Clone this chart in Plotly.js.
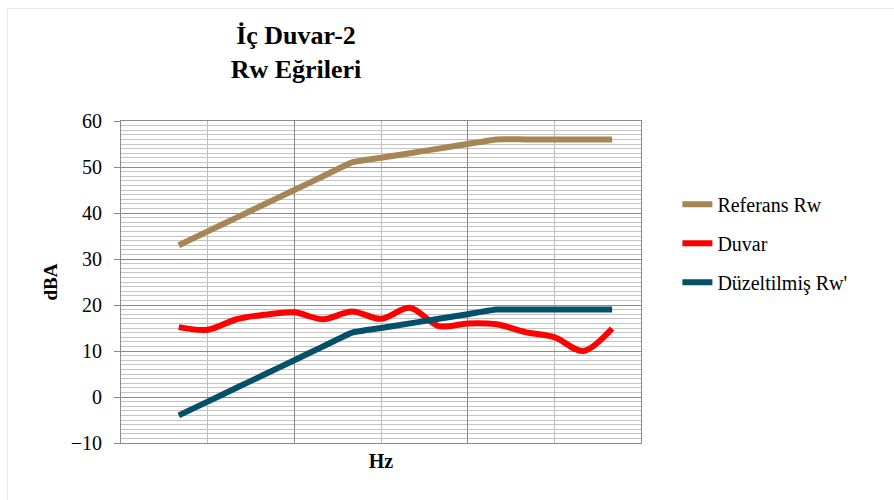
<!DOCTYPE html>
<html>
<head>
<meta charset="utf-8">
<script src="https://cdn.plot.ly/plotly-3.0.1.min.js"></script>
<style>
  html, body { margin: 0; padding: 0; background: #fff; }
  #wrap { position: relative; width: 894px; height: 500px; overflow: hidden; }
  #chart { width: 894px; height: 500px; }
  #frame { position: absolute; left: 7px; top: 8px; width: 1000px; height: 600px;
           border-left: 1px solid #e8e8e8; border-top: 1px solid #e8e8e8; pointer-events: none; }
</style>
</head>
<body>
<div id="wrap">
  <div id="chart"></div>
  <div id="frame"></div>
</div>
<script>
// 1/3-octave band centre frequencies (categories, not labelled on the chart)
const freqs = [100, 125, 160, 200, 250, 315, 400, 500, 630, 800, 1000, 1250, 1600, 2000, 2500, 3150];
// Series values (dB)
const referansRw = [33, 36, 39, 42, 45, 48, 51, 52, 53, 54, 55, 56, 56, 56, 56, 56];
const duvar = [15.2, 14.6, 16.9, 17.9, 18.4, 16.9, 18.6, 17.0, 19.4, 15.4, 16.0, 15.8, 14.1, 13.0, 10.0, 14.9];
const duzeltilmisRw = [-4, -1, 2, 5, 8, 11, 14, 15, 16, 17, 18, 19, 19, 19, 19, 19];
const seriesNames = ['Referans Rw', 'Duvar', 'Düzeltilmiş Rw\''];
const yTicks = [-10, 0, 10, 20, 30, 40, 50, 60];

const xPos = freqs.map((f, i) => i);
const serif = 'Times New Roman';

function mk(name, y, color, group, smooth) {
  return {
    type: 'scatter', mode: 'lines', name: name, x: xPos, y: y,
    line: { color: color, width: 6, shape: 'spline', smoothing: smooth },
    legendgroup: group
  };
}

const data = [
  mk(seriesNames[0], referansRw, '#A68654', 'a', 0.4),
  mk(seriesNames[1], duvar, '#FF0000', 'b', 0.9),
  mk(seriesNames[2], duzeltilmisRw, '#045068', 'c', 0.4)
];

const layout = {
  width: 894, height: 500,
  margin: { l: 121, r: 253, t: 121, b: 57, pad: 0 },
  font: { family: serif, color: '#000', size: 20 },
  title: {
    text: 'İç Duvar-2<br>Rw Eğrileri',
    font: { family: serif, size: 26, weight: 'bold' },
    xref: 'container', x: 296 / 894, xanchor: 'center',
    yref: 'container', y: 1 - 44 / 500, yanchor: 'top'
  },
  xaxis: {
    range: [-2, 16], tick0: -2, dtick: 6,
    showticklabels: false, ticks: '',
    showline: true, linecolor: '#8a8a8a', linewidth: 1, mirror: true,
    showgrid: true, gridcolor: '#8a8a8a', gridwidth: 1,
    minor: { tick0: -2, dtick: 3, showgrid: true, gridcolor: '#bdbdbd', gridwidth: 1, ticks: '' },
    zeroline: false,
    title: { text: 'Hz', font: { family: serif, size: 20, weight: 'bold' }, standoff: 10 }
  },
  yaxis: {
    range: [-10, 60], tickvals: yTicks,
    ticks: 'outside', ticklen: 6, tickcolor: '#8a8a8a', tickwidth: 1,
    ticklabelstandoff: 8,
    tickfont: { family: 'Liberation Serif' },
    showline: true, linecolor: '#8a8a8a', linewidth: 1, mirror: true,
    showgrid: true, gridcolor: '#8a8a8a', gridwidth: 1,
    minor: { dtick: 1, tick0: 0, showgrid: true, gridcolor: '#c4c4c4', gridwidth: 1, ticks: '' },
    zeroline: false,
    title: { text: 'dBA', font: { family: serif, size: 19, weight: 'bold' }, standoff: 8 }
  },
  showlegend: true,
  legend: {
    x: 1.07, y: 0.62,
    font: { family: 'serif', size: 20 }
  }
};

Plotly.newPlot('chart', data, layout, { displayModeBar: false });
</script>
</body>
</html>
